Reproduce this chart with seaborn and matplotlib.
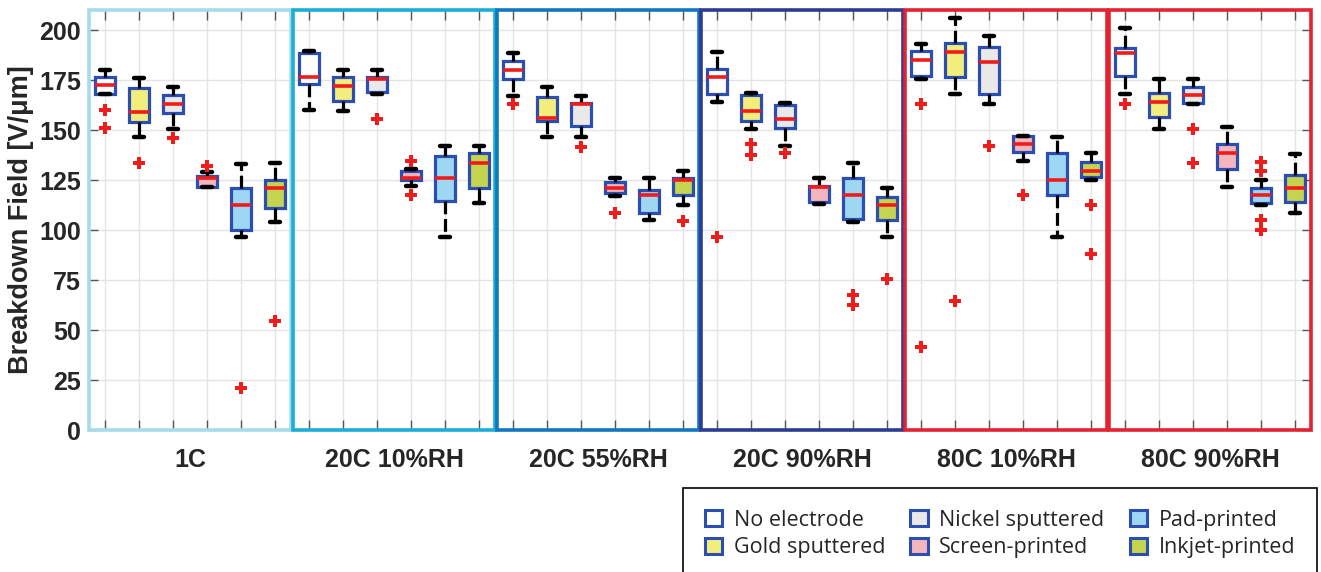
import numpy as np
import pandas as pd
import matplotlib
matplotlib.use("Agg")
import matplotlib.pyplot as plt
import matplotlib.patches as mpatches
import matplotlib.transforms as mtransforms
import seaborn as sns

groups = ["1C", "20C 10%RH", "20C 55%RH", "20C 90%RH", "80C 10%RH", "80C 90%RH"]
electrodes = ["No electrode", "Gold sputtered", "Nickel sputtered",
              "Screen-printed", "Pad-printed", "Inkjet-printed"]

# rows = groups, columns = electrodes (same order as lists above)
whisker_low = [
    [168.0, 146.3, 150.3, 121.7, 96.7, 104.2],
    [160.0, 159.7, 167.8, 122.0, 96.7, 113.3],
    [167.2, 146.3, 146.3, 117.0, 105.0, 112.5],
    [163.8, 150.3, 142.2, 113.0, 103.8, 96.3],
    [175.5, 168.0, 163.0, 134.5, 96.7, 125.0],
    [168.0, 150.5, 162.8, 121.7, 112.5, 108.3],
]
quart1 = [
    [168.0, 154.0, 158.3, 121.7, 100.0, 110.8],
    [173.0, 164.7, 169.2, 125.0, 114.5, 120.8],
    [175.5, 154.7, 152.2, 118.3, 108.7, 117.5],
    [167.8, 154.7, 150.8, 114.2, 105.5, 105.0],
    [177.0, 176.3, 167.8, 139.2, 117.5, 126.3],
    [177.2, 156.3, 163.3, 130.3, 113.3, 113.8],
]
medians = [
    [172.5, 159.0, 163.2, 125.8, 112.5, 120.8],
    [176.3, 172.2, 175.7, 126.2, 126.2, 133.7],
    [180.0, 155.8, 163.0, 120.8, 117.5, 125.0],
    [176.3, 159.7, 155.5, 121.7, 117.5, 112.5],
    [185.0, 189.2, 184.2, 142.8, 125.0, 129.5],
    [188.7, 164.2, 167.5, 138.7, 117.5, 120.8],
]
quart3 = [
    [176.5, 170.8, 167.5, 126.8, 120.8, 125.0],
    [188.7, 176.7, 176.7, 129.5, 137.2, 138.3],
    [184.5, 166.3, 163.3, 124.2, 120.0, 126.2],
    [180.5, 167.5, 162.5, 122.2, 125.8, 116.7],
    [189.5, 193.7, 191.7, 147.0, 138.7, 133.8],
    [191.2, 168.3, 171.7, 142.8, 121.2, 127.5],
]
whisker_high = [
    [180.0, 175.8, 171.3, 129.2, 133.0, 133.7],
    [189.5, 180.0, 180.0, 130.3, 142.2, 142.2],
    [188.7, 171.3, 167.2, 126.2, 125.8, 129.5],
    [189.2, 168.3, 163.3, 126.2, 133.7, 120.8],
    [192.8, 206.2, 197.0, 147.0, 146.7, 138.7],
    [200.8, 175.5, 175.5, 151.3, 125.0, 137.8],
]
outliers = [
    [[160.0, 151.2], [133.7], [146.2], [132.2], [20.8], [54.5]],
    [[], [], [155.3], [134.5, 117.5], [], []],
    [[162.8], [], [141.7], [108.3], [], [104.7]],
    [[96.3], [142.8, 137.5], [138.3], [], [67.5, 62.5], [75.3]],
    [[163.0, 41.7], [64.5], [142.0], [117.5], [], [112.5, 88.0]],
    [[163.0], [], [150.3, 133.7], [], [134.2, 129.5, 105.0, 100.0], []],
]

fill_colors = ["#ffffff", "#f3ee7c", "#e9e9e9", "#f5b5bd", "#9dd7f2", "#c4d44e"]
frame_colors = ["#a6dbe9", "#1aaed8", "#0f78c1", "#2c3b95", "#e5222f", "#e5222f"]
edge_blue = "#2a4fb0"

# ---- long-form data ----
slots = [f"{g}|{e}" for g in groups for e in electrodes]
rows, out_rows = [], []
for gi, g in enumerate(groups):
    for ei, e in enumerate(electrodes):
        s = f"{g}|{e}"
        for v in (whisker_low[gi][ei], quart1[gi][ei], medians[gi][ei],
                  quart3[gi][ei], whisker_high[gi][ei]):
            rows.append({"slot": s, "electrode": e, "group": g, "value": v})
        for v in outliers[gi][ei]:
            out_rows.append({"slot": s, "electrode": e, "group": g, "value": v})
df = pd.DataFrame(rows)
df_out = pd.DataFrame(out_rows)

sns.set_theme(style="white")
plt.rcParams["font.family"] = ["Liberation Sans", "DejaVu Sans"]

fig = plt.figure(figsize=(13.21, 5.72), dpi=100)
ax = fig.add_axes([88 / 1321, 1 - 430 / 572, (1312 - 88) / 1321, 420 / 572])

sns.boxplot(
    data=df, x="slot", y="value", hue="electrode", order=slots,
    hue_order=electrodes, palette=fill_colors, dodge=False, width=0.6,
    whis=(0, 100), saturation=1, linecolor=edge_blue, linewidth=2.3,
    medianprops=dict(color="#f01c1c", linewidth=2.6),
    whiskerprops=dict(color="black", linewidth=2.3, linestyle=(0, (4, 1.5))),
    capprops=dict(color="black", linewidth=3.2),
    legend=False, ax=ax, zorder=3,
)
sns.stripplot(
    data=df_out, x="slot", y="value", order=slots, jitter=False,
    color="#f01c1c", marker="P", size=8, linewidth=0, ax=ax, zorder=4,
)

n = len(electrodes)
ax.set_xlim(-0.5, len(slots) - 0.5)
ax.set_ylim(0, 210)
ax.set_yticks(np.arange(0, 201, 25))
ax.set_yticklabels([str(v) for v in range(0, 201, 25)], fontsize=18, fontweight="bold")
centers = [gi * n + (n - 1) / 2 for gi in range(len(groups))]
ax.set_xticks(centers)
ax.set_xticklabels(groups, fontsize=18, fontweight="bold")
ax.set_xticks(np.arange(len(slots)), minor=True)
ax.tick_params(axis="x", which="major", length=0, pad=13)
ax.tick_params(axis="x", which="minor", direction="in", length=7, width=1,
               color="#555555", top=True, bottom=True)
ax.tick_params(axis="y", which="major", direction="in", length=7, width=1,
               color="#555555", left=True, right=True, pad=5)
ax.set_xlabel("")
ax.set_ylabel("Breakdown Field [V/μm]", fontsize=19.5, fontweight="bold", labelpad=4)

ax.grid(False)
ax.grid(True, which="minor", axis="x", color="#e4e4e4", linewidth=1)
ax.grid(True, which="major", axis="y", color="#e4e4e4", linewidth=1)
ax.set_axisbelow(True)
for sp in ax.spines.values():
    sp.set_visible(False)

trans = mtransforms.blended_transform_factory(ax.transData, ax.transAxes)
for gi, c in enumerate(frame_colors):
    x0 = gi * n - 0.5 + 0.03
    rect = mpatches.Rectangle((x0, 0.0), n - 0.06, 1.0, transform=trans,
                              fill=False, edgecolor=c, linewidth=2.6,
                              clip_on=False, zorder=6)
    ax.add_patch(rect)

handles = [mpatches.Patch(facecolor=c, edgecolor=edge_blue, linewidth=2.2)
           for c in fill_colors]
leg = fig.legend(
    handles, electrodes, ncol=3, loc="upper left",
    bbox_to_anchor=(683 / 1321, 1 - 488 / 572, 634 / 1321, 0.0), mode="expand",
    prop={"family": ["Open Sans", "DejaVu Sans"], "size": 15.5},
    frameon=True, fancybox=False, framealpha=1, edgecolor="black",
    borderpad=1.0, handlelength=0.8, handleheight=0.8, handletextpad=0.55,
    labelspacing=0.32, columnspacing=0.5, borderaxespad=0,
)
leg.get_frame().set_linewidth(1.2)

fig.savefig("out.png", dpi=100)
